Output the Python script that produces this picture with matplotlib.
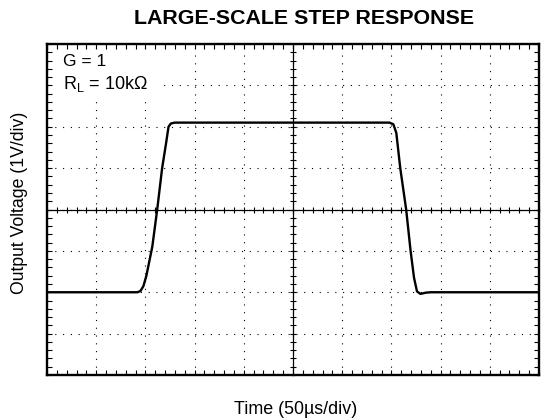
import numpy as np
from matplotlib import pyplot as plt
from matplotlib.ticker import MultipleLocator
from matplotlib.patches import Rectangle

plt.rcParams['font.family'] = ['Liberation Sans', 'DejaVu Sans']

# time in us (50us/div), output in V (1V/div)
time_us = [0, 92, 95, 98, 101, 104, 107, 112, 117, 121, 123.5, 126, 130, 200,
           300, 348, 352, 355, 359, 365, 369.5, 373, 376, 379.5, 385, 390, 500]
vout = [-2.0, -2.0, -1.97, -1.85, -1.6, -1.25, -0.9, 0.0, 1.0, 1.6, 2.0, 2.08,
        2.1, 2.1, 2.1, 2.1, 2.06, 1.85, 1.0, 0.0, -1.0, -1.65, -1.98, -2.04,
        -2.01, -2.0, -2.0]

x_div = 50
y_div = 1
x_lim = (0, 500)
y_lim = (-4, 4)

fig = plt.figure(figsize=(5.41, 4.18), dpi=100)
pos = [47 / 541, 1 - 375 / 418, 492 / 541, 331 / 418]
ax = fig.add_axes(pos)

ax.plot(time_us, vout, color='black', lw=1.7, solid_joinstyle='round', zorder=5)
ax.set_xlim(*x_lim)
ax.set_ylim(*y_lim)

# dotted grid at each division
ax.xaxis.set_major_locator(MultipleLocator(x_div))
ax.yaxis.set_major_locator(MultipleLocator(y_div))
ax.xaxis.set_minor_locator(MultipleLocator(x_div / 5))
ax.yaxis.set_minor_locator(MultipleLocator(y_div / 5))
ax.grid(True, which='major', color='black', lw=0.8, linestyle=(0, (1, 6)))
ax.tick_params(which='both', direction='in', length=3.5, width=0.8,
               top=True, right=True, labelbottom=False, labelleft=False)
for s in ax.spines.values():
    s.set_linewidth(1.7)

# white patch behind the annotation
ax.add_patch(Rectangle((0.012, 0.83), 0.214, 0.152, transform=ax.transAxes,
                       facecolor='white', edgecolor='none', zorder=2))

# solid center lines with tick marks
ax2 = fig.add_axes(pos, sharex=ax, sharey=ax)
ax2.patch.set_alpha(0)
ax2.spines['left'].set_position(('data', 250))
ax2.spines['bottom'].set_position(('data', 0))
ax2.spines['top'].set_visible(False)
ax2.spines['right'].set_visible(False)
ax2.spines['left'].set_linewidth(0.9)
ax2.spines['bottom'].set_linewidth(0.9)
ax2.tick_params(which='both', direction='inout', length=5, width=0.8,
                labelbottom=False, labelleft=False)

ax.text(63 / 541, 1 - 61.5 / 418, 'G = 1', transform=fig.transFigure,
        fontsize=12.5, va='center', zorder=3)
ax.text(63 / 541, 1 - 84 / 418, r'R$_\mathregular{L}$ = 10kΩ',
        transform=fig.transFigure, fontsize=13, va='center', zorder=3)

fig.text(304 / 541, 1 - 18 / 418, 'LARGE-SCALE STEP RESPONSE', ha='center',
         va='center', fontsize=15.4, fontweight='bold')
fig.text(296 / 541, 1 - 409 / 418, 'Time (50µs/div)', ha='center', va='center',
         fontsize=12.9)
fig.text(20 / 541, 1 - 202.5 / 418, 'Output Voltage (1V/div)', ha='center',
         va='center', rotation=90, fontsize=12.7)

fig.savefig('out.png', dpi=100)
